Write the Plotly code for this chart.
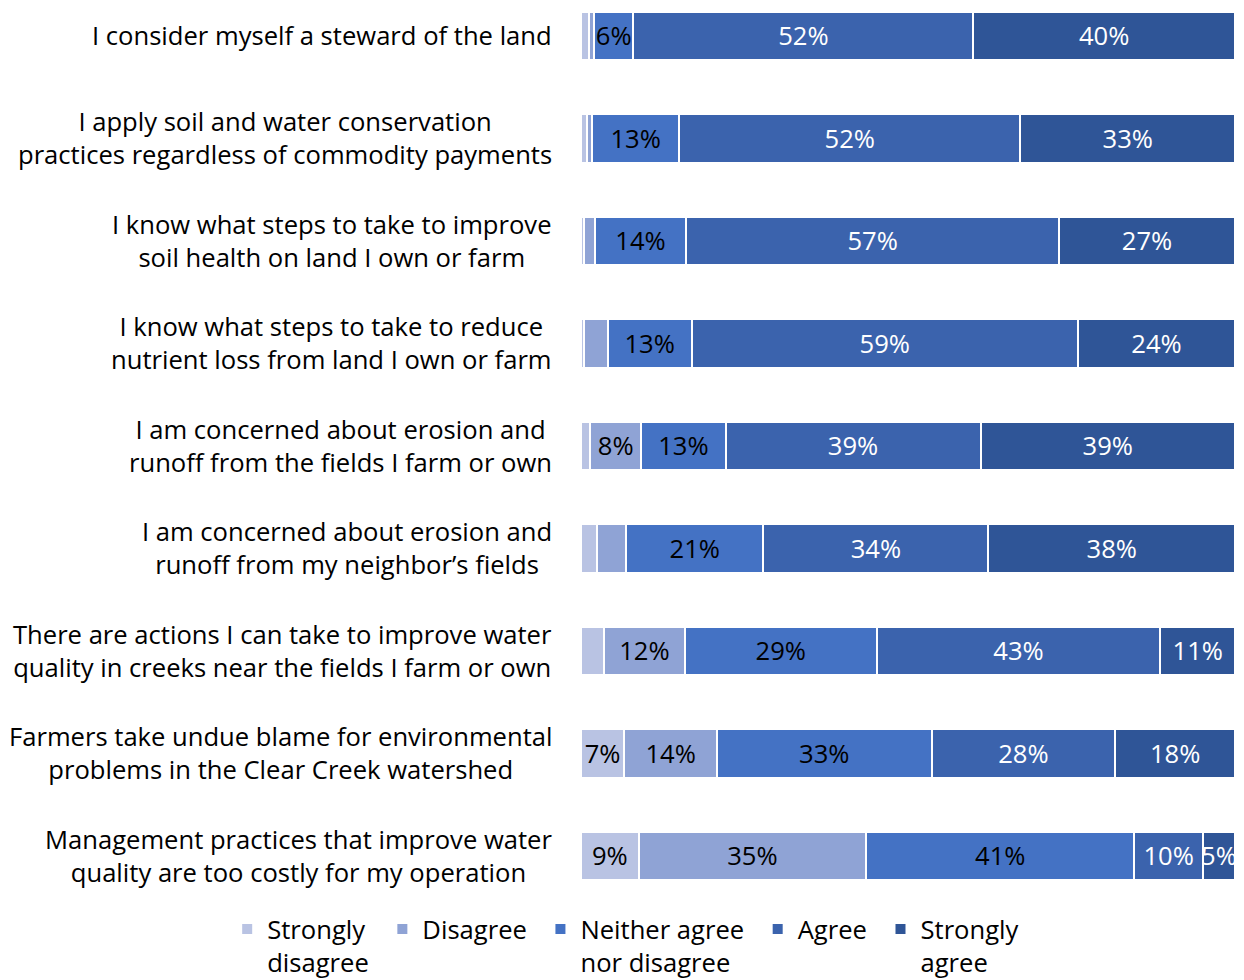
import plotly.graph_objects as go

statements = [
    "I consider myself a steward of the land",
    "I apply soil and water conservation<br>practices regardless of commodity payments",
    "I know what steps to take to improve<br>soil health on land I own or farm",
    "I know what steps to take to reduce<br>nutrient loss from land I own or farm",
    "I am concerned about erosion and<br>runoff from the fields I farm or own",
    "I am concerned about erosion and<br>runoff from my neighbor\u2019s fields",
    "There are actions I can take to improve water<br>quality in creeks near the fields I farm or own",
    "Farmers take undue blame for environmental<br>problems in the Clear Creek watershed",
    "Management practices that improve water<br>quality are too costly for my operation",
]

strongly_disagree = [1.2, 0.9, 0.4, 0.4, 1.4, 2.4, 3.5, 6.6, 8.8]
disagree = [0.8, 0.8, 1.7, 3.7, 7.8, 4.5, 12.4, 14.2, 34.8]
neither = [6, 13.3, 14, 12.8, 12.9, 21, 29.3, 32.8, 41]
agree = [52, 52.2, 57, 59.1, 39, 34.4, 43.4, 28.1, 10.5]
strongly_agree = [40, 32.8, 26.9, 24, 38.9, 37.7, 11.4, 18.3, 4.9]

SP = "\u2004"
series = [
    ("Strongly" + SP + "<br>disagree" + SP, strongly_disagree, "#b9c3e3", "black"),
    ("Disagree" + SP, disagree, "#8fa3d5", "black"),
    ("Neither agree" + SP + "<br>nor disagree" + SP, neither, "#4472c4", "black"),
    ("Agree" + SP, agree, "#3b63ad", "white"),
    ("Strongly" + SP + "<br>agree", strongly_agree, "#2f5597", "white"),
]

FONT = "Open Sans"
FS = 25.6
ypos = list(range(len(statements)))

fig = go.Figure()
for name, vals, color, tcolor in series:
    fig.add_trace(go.Bar(
        x=vals, y=ypos, orientation="h", name=name,
        marker=dict(color=color, line=dict(color="white", width=2)),
        text=[f"{v:.0f}%" if v >= 4.8 else "" for v in vals],
        textposition="inside", insidetextanchor="middle", textangle=0,
        insidetextfont=dict(color=tcolor, size=FS, family=FONT),
        hoverinfo="skip",
    ))

for i, s in enumerate(statements):
    fig.add_annotation(
        x=-0.0413, xref="paper", y=i, yref="y", text=s, showarrow=False,
        xanchor="right", yanchor="middle", align="center",
        font=dict(size=FS, family=FONT, color="black"),
    )

fig.update_layout(
    width=1236, height=972, barmode="stack", bargap=0.53,
    margin=dict(l=573, r=9, t=0, b=90, autoexpand=False),
    paper_bgcolor="white", plot_bgcolor="white",
    font=dict(family=FONT, size=FS, color="black"),
    uniformtext=dict(minsize=FS, mode="show"),
    xaxis=dict(visible=False, range=[0, 100], fixedrange=True),
    yaxis=dict(visible=False, range=[8.332, -0.273], fixedrange=True),
    legend=dict(orientation="h", x=-0.541, xanchor="left", y=-0.018, yanchor="top",
                valign="top", font=dict(size=FS, family=FONT), traceorder="normal",
                itemwidth=30, tracegroupgap=0),
    showlegend=True,
)

fig.write_html("out.html")
